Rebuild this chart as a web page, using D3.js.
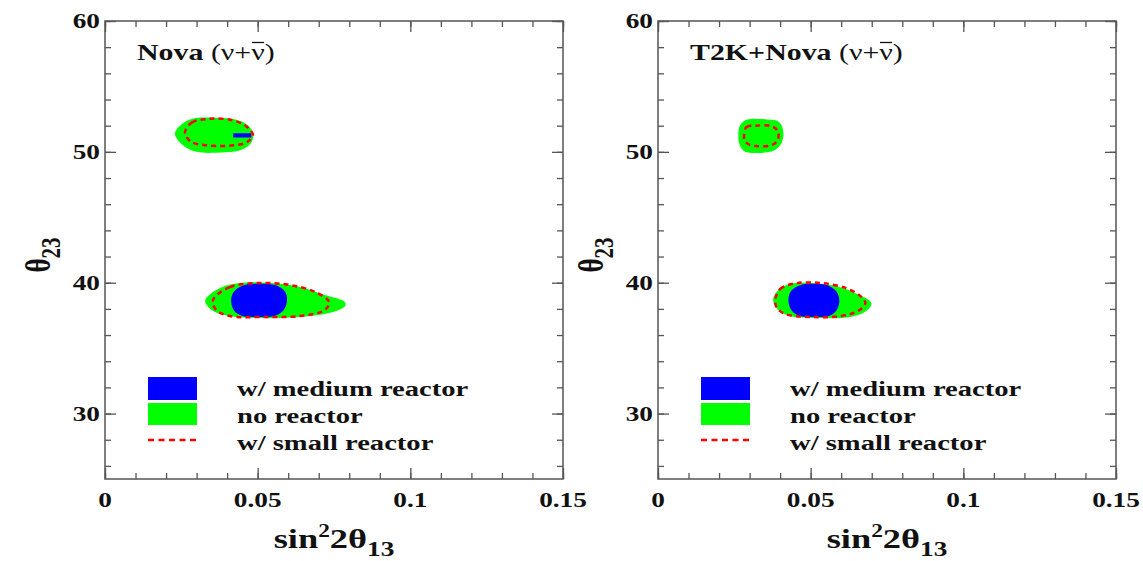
<!DOCTYPE html>
<html>
<head>
<meta charset="utf-8">
<script src="https://cdn.jsdelivr.net/npm/d3@7"></script>
<style>
  body { margin: 0; background: #fff; }
  svg { display: block; }
</style>
</head>
<body>
<svg id="chart" width="1143" height="561"></svg>
<script>
// ---- axis ticks and labels ----
const xTickValues = [0, 0.05, 0.1, 0.15];
const xTickLabels = ["0", "0.05", "0.1", "0.15"];
const xMinorTicks = d3.range(0, 0.1501, 0.01);
const yTickValues = [30, 40, 50, 60];
const yTickLabels = ["30", "40", "50", "60"];
const yMinorTicks = d3.range(26, 60.01, 2);

const panelNames = ["Nova", "T2K+Nova"];
const legendLabels = ["w/ medium reactor", "no reactor", "w/ small reactor"];

// ---- allowed regions, (sin^2 2θ13, θ23) ----
// Nova alone
const novaNoReactorUpper = [
  [0.0229, 51.4], [0.0250, 52.1], [0.0290, 52.55], [0.0360, 52.6], [0.0430, 52.45],
  [0.0470, 52.0], [0.0486, 51.3], [0.0476, 50.6], [0.0440, 50.1], [0.0380, 49.95],
  [0.0300, 50.0], [0.0255, 50.5]
];
const novaSmallReactorUpper = [
  [0.0262, 51.5], [0.0285, 52.25], [0.0340, 52.52], [0.0410, 52.45], [0.0460, 52.0],
  [0.0484, 51.3], [0.0465, 50.75], [0.0420, 50.5], [0.0330, 50.5], [0.0280, 50.8]
];
const novaMediumReactorUpper = [
  [0.0420, 51.42], [0.0478, 51.42], [0.0480, 51.1], [0.0420, 51.1]
];
const novaNoReactorLower = [
  [0.0328, 38.65], [0.0377, 39.6], [0.0442, 39.98], [0.0540, 39.98], [0.0639, 39.67],
  [0.0720, 39.06], [0.0786, 38.52], [0.0786, 38.2], [0.0737, 37.7], [0.0639, 37.38],
  [0.0508, 37.3], [0.0409, 37.45], [0.0350, 37.9]
];
const novaSmallReactorLower = [
  [0.0354, 38.68], [0.0409, 39.67], [0.0508, 39.98], [0.0606, 39.82], [0.0688, 39.29],
  [0.0734, 38.53], [0.0720, 37.92], [0.0639, 37.46], [0.0508, 37.38], [0.0409, 37.45],
  [0.0364, 37.92]
];
const novaMediumReactorLower = [
  [0.0413, 38.7], [0.0425, 39.4], [0.0460, 39.85], [0.0510, 39.92], [0.0560, 39.8],
  [0.0590, 39.3], [0.0596, 38.6], [0.0585, 37.9], [0.0555, 37.45], [0.0500, 37.38],
  [0.0450, 37.45], [0.0422, 37.9]
];
// T2K + Nova
const comboNoReactorUpper = [
  [0.0263, 51.2], [0.0268, 52.0], [0.0290, 52.45], [0.0350, 52.5], [0.0395, 52.3],
  [0.0410, 51.6], [0.0405, 50.7], [0.0380, 50.1], [0.0320, 49.92], [0.0285, 50.0],
  [0.0268, 50.5]
];
const comboSmallReactorUpper = [
  [0.0282, 51.3], [0.0290, 51.9], [0.0320, 52.0], [0.0370, 51.98], [0.0392, 51.6],
  [0.0392, 50.9], [0.0370, 50.5], [0.0320, 50.45], [0.0295, 50.6], [0.0284, 50.9]
];
const comboNoReactorLower = [
  [0.0377, 38.68], [0.0394, 39.45], [0.0433, 39.9], [0.0499, 39.98], [0.0581, 39.75],
  [0.0647, 39.2], [0.0699, 38.45], [0.0683, 37.85], [0.0630, 37.38], [0.0532, 37.3],
  [0.0433, 37.45], [0.0394, 37.9]
];
const comboSmallReactorLower = [
  [0.0384, 38.68], [0.0400, 39.52], [0.0450, 39.95], [0.0532, 39.98], [0.0614, 39.6],
  [0.0663, 38.98], [0.0679, 38.45], [0.0656, 37.85], [0.0597, 37.45], [0.0499, 37.38],
  [0.0417, 37.6], [0.0390, 38.07]
];
const comboMediumReactorLower = [
  [0.0427, 38.7], [0.0437, 39.4], [0.0470, 39.85], [0.0510, 39.92], [0.0555, 39.8],
  [0.0585, 39.3], [0.0594, 38.6], [0.0585, 37.9], [0.0560, 37.45], [0.0510, 37.38],
  [0.0465, 37.45], [0.0437, 37.9]
];

const panels = [
  {
    name: panelNames[0], left: 105,
    green: [novaNoReactorUpper, novaNoReactorLower],
    blue: [novaMediumReactorLower], blueBars: [novaMediumReactorUpper],
    red: [novaSmallReactorUpper, novaSmallReactorLower]
  },
  {
    name: panelNames[1], left: 658,
    green: [comboNoReactorUpper, comboNoReactorLower],
    blue: [comboMediumReactorLower], blueBars: [],
    red: [comboSmallReactorUpper, comboSmallReactorLower]
  }
];

const W = 458, H = 458, TOP = 21;
const SX = 1.3;                // horizontal glyph stretch
const FONT = "'Liberation Serif', 'Times New Roman', serif";
const BLUE = "#0000ff", GREEN = "#00ff00", RED = "#ff0000", FRAME = "#555";

const svg = d3.select("#chart");
svg.append("rect").attr("width", 1143).attr("height", 561).attr("fill", "#fff");

function stretched(parent, x, y, rotate) {
  return parent.append("g")
    .attr("transform", `translate(${x},${y}) scale(${SX},1)` + (rotate ? ` rotate(${rotate})` : ""))
    .append("text")
    .attr("font-family", FONT);
}

panels.forEach(p => {
  const x = d3.scaleLinear().domain([0, 0.15]).range([0, W]);
  const y = d3.scaleLinear().domain([25, 60]).range([H, 0]);
  const g = svg.append("g").attr("transform", `translate(${p.left},${TOP})`);

  const smooth = d3.line().x(d => x(d[0])).y(d => y(d[1])).curve(d3.curveCatmullRomClosed.alpha(0.5));
  const straight = d3.line().x(d => x(d[0])).y(d => y(d[1])).curve(d3.curveLinearClosed);

  // regions: no reactor, medium reactor, small reactor outline
  g.selectAll(null).data(p.green).join("path").attr("d", smooth).attr("fill", GREEN);
  g.selectAll(null).data(p.blue).join("path").attr("d", smooth).attr("fill", BLUE);
  g.selectAll(null).data(p.blueBars).join("path").attr("d", straight).attr("fill", BLUE);
  g.selectAll(null).data(p.red).join("path").attr("d", smooth)
    .attr("fill", "none").attr("stroke", RED).attr("stroke-width", 2.5)
    .attr("stroke-dasharray", "5,4");

  // ticks on all four sides, pointing inward
  const tickStyle = sel => {
    sel.select(".domain").remove();
    sel.selectAll("line").attr("stroke", FRAME).attr("stroke-width", 1.3);
    sel.selectAll("text").remove();
  };
  g.append("g").attr("transform", `translate(0,${H})`)
    .call(d3.axisBottom(x).tickValues(xMinorTicks).tickSize(-6)).call(tickStyle);
  g.append("g").attr("transform", `translate(0,${H})`)
    .call(d3.axisBottom(x).tickValues(xTickValues).tickSize(-11)).call(tickStyle);
  g.append("g")
    .call(d3.axisTop(x).tickValues(xMinorTicks).tickSize(-6)).call(tickStyle);
  g.append("g")
    .call(d3.axisTop(x).tickValues(xTickValues).tickSize(-11)).call(tickStyle);
  g.append("g")
    .call(d3.axisLeft(y).tickValues(yMinorTicks).tickSize(-6)).call(tickStyle);
  g.append("g")
    .call(d3.axisLeft(y).tickValues(yTickValues).tickSize(-11)).call(tickStyle);
  g.append("g").attr("transform", `translate(${W},0)`)
    .call(d3.axisRight(y).tickValues(yMinorTicks).tickSize(-6)).call(tickStyle);
  g.append("g").attr("transform", `translate(${W},0)`)
    .call(d3.axisRight(y).tickValues(yTickValues).tickSize(-11)).call(tickStyle);

  g.append("rect").attr("width", W).attr("height", H)
    .attr("fill", "none").attr("stroke", FRAME).attr("stroke-width", 1.5);

  // tick labels
  xTickValues.forEach((v, i) => {
    stretched(g, x(v), H + 28, 0).attr("text-anchor", "middle")
      .attr("font-size", 21).attr("font-weight", "bold").attr("fill", "#111")
      .text(xTickLabels[i]);
  });
  yTickValues.forEach((v, i) => {
    stretched(g, -5, y(v) + 7, 0).attr("text-anchor", "end")
      .attr("font-size", 21).attr("font-weight", "bold").attr("fill", "#111")
      .text(yTickLabels[i]);
  });

  // axis titles
  const xt = stretched(g, W / 2, H + 69, 0).attr("text-anchor", "middle")
    .attr("font-size", 28).attr("font-weight", "bold").attr("fill", "#111");
  xt.append("tspan").text("sin");
  xt.append("tspan").attr("font-size", 18).attr("dy", -11).text("2");
  xt.append("tspan").attr("dy", 11).text("2θ");
  xt.append("tspan").attr("font-size", 21).attr("dy", 8).text("13");

  const yt = stretched(g, -55, H / 2 + 5, -90).attr("text-anchor", "middle")
    .attr("font-size", 27).attr("font-weight", "bold").attr("fill", "#111");
  yt.append("tspan").text("θ");
  yt.append("tspan").attr("font-size", 21).attr("dy", 8).text("23");

  // panel title: name (ν + anti-ν), the antineutrino marked with a bar
  const tt = stretched(g, 32, 39, 0).attr("font-size", 23).attr("fill", "#111");
  tt.append("tspan").attr("font-weight", "bold").text(p.name + " ");
  tt.append("tspan").text("(ν+");
  tt.append("tspan").text("ν");
  tt.append("tspan").text(")");
  const node = tt.node();
  const barIndex = node.textContent.length - 2;
  const box = node.getExtentOfChar(barIndex);
  d3.select(node.parentNode).append("line")
    .attr("x1", box.x + 0.5).attr("x2", box.x + box.width - 0.5)
    .attr("y1", -17.5).attr("y2", -17.5)
    .attr("stroke", "#111").attr("stroke-width", 1.3);

  // legend
  const lg = g.append("g").attr("transform", "translate(43,356)");
  lg.append("rect").attr("x", 0).attr("y", 0).attr("width", 49).attr("height", 23).attr("fill", BLUE);
  lg.append("rect").attr("x", 0).attr("y", 26).attr("width", 49).attr("height", 22).attr("fill", GREEN);
  lg.append("line").attr("x1", 0).attr("x2", 49).attr("y1", 63).attr("y2", 63)
    .attr("stroke", RED).attr("stroke-width", 2.5).attr("stroke-dasharray", "6,4.5");
  legendLabels.forEach((t, i) => {
    stretched(lg, 89, 19 + i * 27, 0).attr("font-size", 22).attr("font-weight", "bold")
      .attr("fill", "#111").text(t);
  });
});
</script>
</body>
</html>
